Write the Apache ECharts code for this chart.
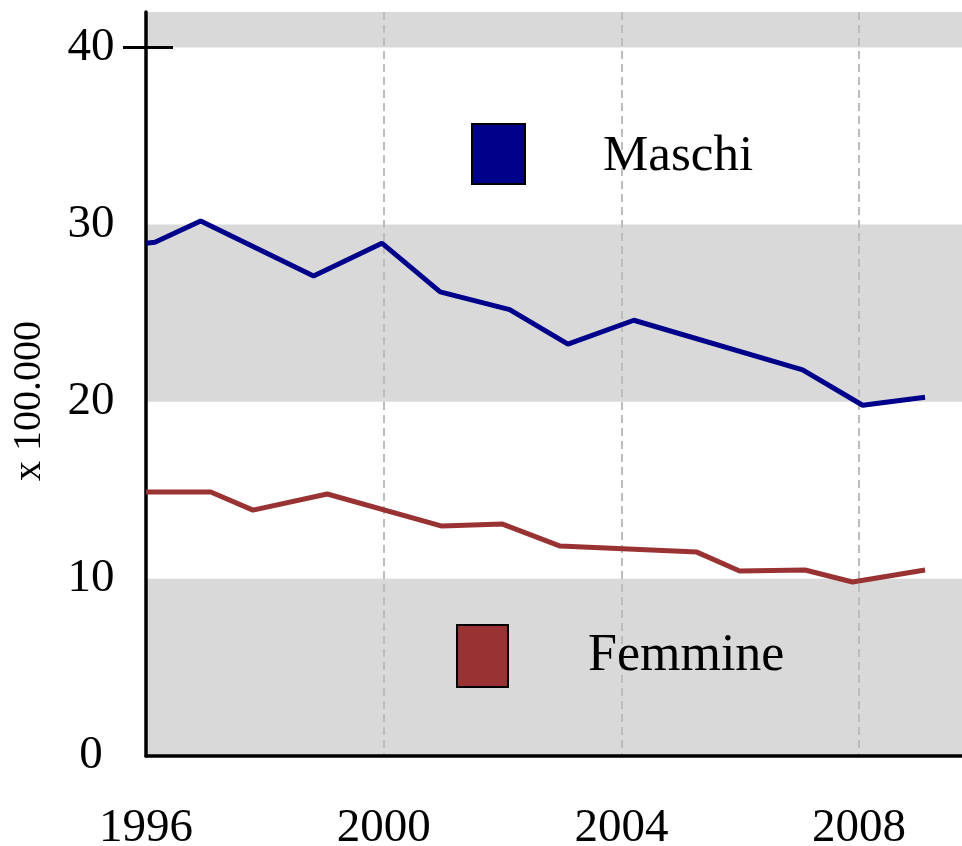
<!DOCTYPE html>
<html>
<head>
<meta charset="utf-8">
<script src="https://cdn.jsdelivr.net/npm/echarts@6/dist/echarts.min.js"></script>
<style>
html,body{margin:0;padding:0;background:#fff;}
#chart{width:962px;height:846px;}
</style>
</head>
<body>
<div id="chart"></div>
<script>
// Data
var maschiYears = [1996, 1996.15, 1996.92, 1998.82, 1999.97, 2000.95, 2002.12, 2003.1, 2004.21, 2007.05, 2008.06, 2009.11];
var maschiValues = [28.95, 29.0, 30.2, 27.1, 28.95, 26.2, 25.2, 23.25, 24.6, 21.8, 19.8, 20.25];
var femmineYears = [1996, 1997.09, 1997.8, 1999.05, 2000.98, 2002.0, 2002.97, 2005.27, 2005.99, 2007.09, 2007.89, 2009.11];
var femmineValues = [14.9, 14.9, 13.88, 14.79, 12.98, 13.09, 11.85, 11.51, 10.44, 10.5, 9.82, 10.5];
var xTickLabels = [1996, 2000, 2004, 2008];
var yTickLabels = [0, 10, 20, 30, 40];
var seriesNames = ['Maschi', 'Femmine'];
var yAxisName = 'x 100.000';

var FONT = '"Liberation Serif", "Times New Roman", serif';

function pairs(xs, ys) {
  return xs.map(function (x, i) { return [x, ys[i]]; });
}

var chart = echarts.init(document.getElementById('chart'), null, {renderer: 'canvas'});

function tickAxis(inside, len) {
  return {
    type: 'value',
    min: 0, max: 42, interval: 10,
    position: 'left',
    axisLine: {show: false},
    axisTick: {show: true, inside: inside, customValues: [40], length: len, lineStyle: {color: '#000', width: 3}},
    axisLabel: {show: false},
    splitLine: {show: false},
    splitArea: {show: false}
  };
}

chart.setOption({
  animation: false,
  backgroundColor: '#ffffff',
  grid: {left: 146, top: 12, right: -10, bottom: 90, containLabel: false, outerBoundsMode: 'none'},
  legend: [
    {
      data: [{name: seriesNames[0], itemStyle: {color: '#00008b'}}],
      left: 471, top: 123, padding: 0,
      icon: 'rect', itemWidth: 53, itemHeight: 60,
      selectedMode: false,
      itemStyle: {borderColor: '#000', borderWidth: 2},
      formatter: '{t|{name}}',
      textStyle: {rich: {t: {fontSize: 51, fontFamily: FONT, color: '#000', padding: [6, 0, 0, 73]}}}
    },
    {
      data: [{name: seriesNames[1], itemStyle: {color: '#993333'}}],
      left: 456, top: 624, padding: 0,
      icon: 'rect', itemWidth: 51, itemHeight: 62,
      selectedMode: false,
      itemStyle: {borderColor: '#000', borderWidth: 2},
      formatter: '{t|{name}}',
      textStyle: {rich: {t: {fontSize: 52, fontFamily: FONT, color: '#000', padding: [0, 0, 0, 75]}}}
    }
  ],
  xAxis: {
    type: 'value',
    min: 1996,
    max: 2009.9,
    interval: 4,
    axisLine: {show: true, onZero: false, lineStyle: {color: '#000', width: 3.5}},
    axisTick: {show: false},
    axisLabel: {
      customValues: xTickLabels,
      color: '#000', fontSize: 47, fontFamily: FONT, margin: 49,
      formatter: function (v) { return String(v); }
    },
    splitLine: {show: true, showMinLine: false, showMaxLine: false,
      lineStyle: {color: '#bdbdbd', width: 2, type: [8, 5]}}
  },
  yAxis: [
    {
      type: 'value',
      min: 0, max: 42, interval: 10,
      name: yAxisName,
      nameLocation: 'middle',
      nameRotate: 90,
      nameGap: 97,
      nameTextStyle: {color: '#000', fontSize: 40, fontFamily: FONT, padding: [0, 34, 0, 0]},
      axisLine: {show: true, lineStyle: {color: '#000', width: 3.5}},
      axisTick: {show: false},
      axisLabel: {customValues: yTickLabels, color: '#000', fontSize: 47, fontFamily: FONT,
        align: 'center', margin: 55},
      splitLine: {show: false},
      splitArea: {show: true, areaStyle: {color: ['#d9d9d9', 'rgba(255,255,255,0)']}}
    },
    tickAxis(false, 23),
    tickAxis(true, 27)
  ],
  series: [
    {
      name: seriesNames[0],
      type: 'line',
      yAxisIndex: 0,
      data: pairs(maschiYears, maschiValues),
      symbol: 'none',
      color: '#00008b',
      itemStyle: {color: '#00008b'},
      lineStyle: {color: '#00008b', width: 5},
      z: 5
    },
    {
      name: seriesNames[1],
      type: 'line',
      yAxisIndex: 0,
      data: pairs(femmineYears, femmineValues),
      symbol: 'none',
      color: '#993333',
      itemStyle: {color: '#993333'},
      lineStyle: {color: '#993333', width: 5},
      z: 5
    }
  ]
});
</script>
</body>
</html>
